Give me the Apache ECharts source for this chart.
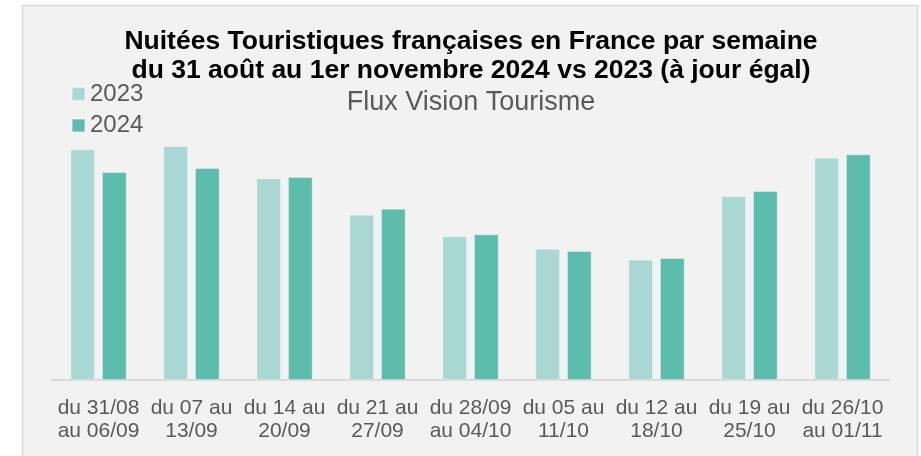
<!DOCTYPE html>
<html>
<head>
<meta charset="utf-8">
<script src="https://cdn.jsdelivr.net/npm/echarts@6/dist/echarts.min.js"></script>
<style>
html,body{margin:0;padding:0;background:#ffffff;}
#chart{width:921px;height:456px;}
</style>
</head>
<body>
<div id="chart"></div>
<script>
const categories = [
  "du 31/08\nau 06/09", "du 07 au\n13/09", "du 14 au\n20/09", "du 21 au\n27/09",
  "du 28/09\nau 04/10", "du 05 au\n11/10", "du 12 au\n18/10", "du 19 au\n25/10",
  "du 26/10\nau 01/11"
];
const seriesNames = ["2023", "2024"];
const values2023 = [230.7, 234.0, 201.7, 165.3, 143.7, 131.3, 120.3, 183.7, 222.3];
const values2024 = [208.0, 212.0, 203.0, 171.3, 145.7, 129.0, 122.0, 189.0, 225.7];
const titleLines = ["Nuitées Touristiques françaises en France par semaine", "du 31 août au 1er novembre 2024 vs 2023 (à jour égal)"];
const subtitleText = "Flux Vision Tourisme";

const chart = echarts.init(document.getElementById('chart'), null, {renderer: 'canvas'});
const font = "Liberation Sans, Arial, sans-serif";
chart.setOption({
  backgroundColor: '#ffffff',
  animation: false,
  graphic: [{
    type: 'rect', z: -10, silent: true,
    shape: {x: 22.5, y: 5.5, width: 895, height: 470},
    style: {fill: '#f2f2f2', stroke: '#d9d9d9', lineWidth: 1.5}
  }],
  title: [{
    text: titleLines.join("\n"),
    left: 471, top: 26.5, textAlign: 'center', padding: 0,
    textStyle: {fontFamily: font, fontSize: 26.5, fontWeight: 'bold', color: '#000000', lineHeight: 29.5}
  }, {
    text: subtitleText,
    left: 471, top: 87.5, textAlign: 'center', padding: 0,
    textStyle: {fontFamily: font, fontSize: 27, fontWeight: 'normal', color: '#595959', lineHeight: 30}
  }],
  legend: {
    orient: 'vertical', left: 71, top: 82, padding: 0,
    itemWidth: 13, itemHeight: 13, itemGap: 7.5,
    icon: 'rect',
    textStyle: {fontFamily: font, fontSize: 24, color: '#595959', lineHeight: 24, padding: [0, 0, 0, 0]},
    data: seriesNames
  },
  grid: {left: 52, right: 32, top: 140, bottom: 76, containLabel: false},
  xAxis: {
    type: 'category', data: categories,
    axisLine: {lineStyle: {color: '#d9d9d9', width: 2}},
    axisTick: {show: false},
    axisLabel: {fontFamily: font, fontSize: 21, color: '#595959', lineHeight: 23.5, margin: 16, interval: 0}
  },
  yAxis: {
    type: 'value', min: 0, max: 240, show: false,
    splitLine: {show: false}
  },
  series: [{
    name: seriesNames[0], type: 'bar', data: values2023,
    barWidth: 24.7, barGap: '28%',
    itemStyle: {color: '#a9d7d1', borderColor: 'rgba(255,255,255,0.35)', borderWidth: 1}
  }, {
    name: seriesNames[1], type: 'bar', data: values2024,
    barWidth: 24.7, barGap: '28%',
    itemStyle: {color: '#5cbdad', borderColor: 'rgba(255,255,255,0.35)', borderWidth: 1}
  }]
});
</script>
</body>
</html>
